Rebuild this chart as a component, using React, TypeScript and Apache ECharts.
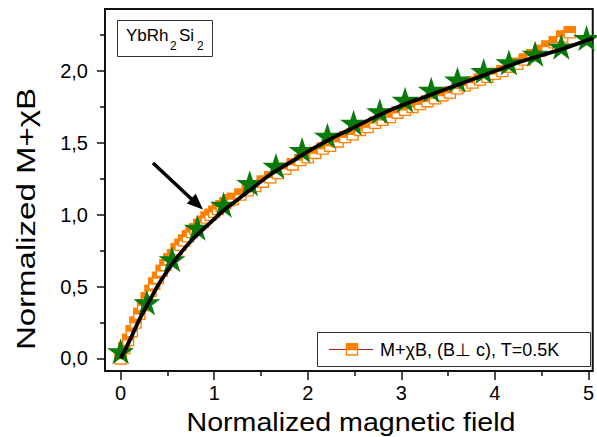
import React, { useEffect, useRef } from "react";
import * as echarts from "echarts";

// Measured data: M+chiB, (B perp c), T=0.5K (orange squares)
const fieldX = [
  0, 0.04, 0.08, 0.12, 0.16, 0.2, 0.24, 0.28, 0.32, 0.36, 0.4, 0.44, 0.48, 0.52, 0.56, 0.6,
  0.64, 0.68, 0.72, 0.76, 0.8, 0.84, 0.88, 0.92, 0.96, 1.0, 1.04, 1.08, 1.12, 1.16, 1.2,
  1.28, 1.36, 1.44, 1.52, 1.6, 1.68, 1.76, 1.84, 1.92, 2.0, 2.08, 2.16, 2.24, 2.32, 2.4,
  2.48, 2.56, 2.64, 2.72, 2.8, 2.88, 2.96, 3.04, 3.12, 3.2, 3.28, 3.36, 3.44, 3.52, 3.6,
  3.68, 3.76, 3.84, 3.92, 4.0, 4.08, 4.16, 4.24, 4.32, 4.4, 4.48, 4.56, 4.64, 4.72, 4.8,
];
const momentY = [
  0.0, 0.07, 0.13, 0.19, 0.25, 0.31, 0.37, 0.42, 0.47, 0.52, 0.56, 0.61, 0.65, 0.69, 0.72, 0.76,
  0.79, 0.82, 0.85, 0.88, 0.9, 0.93, 0.95, 0.98, 1.0, 1.02, 1.04, 1.06, 1.08, 1.1, 1.11,
  1.14, 1.17, 1.2, 1.23, 1.26, 1.29, 1.32, 1.35, 1.38, 1.4, 1.43, 1.46, 1.48, 1.51, 1.54,
  1.56, 1.59, 1.61, 1.64, 1.66, 1.68, 1.71, 1.73, 1.75, 1.77, 1.79, 1.81, 1.83, 1.85, 1.88,
  1.9, 1.92, 1.94, 1.96, 1.98, 2.0, 2.03, 2.05, 2.08, 2.11, 2.14, 2.17, 2.2, 2.24, 2.27,
];

// Green stars
const starX = [0, 0.28, 0.55, 0.82, 1.1, 1.38, 1.66, 1.94, 2.21, 2.49, 2.77, 3.04, 3.32, 3.6, 3.88, 4.15, 4.43, 4.71, 4.98];
const starY = [0.05, 0.39, 0.69, 0.91, 1.07, 1.22, 1.34, 1.45, 1.55, 1.64, 1.72, 1.8, 1.87, 1.94, 2.0, 2.06, 2.12, 2.17, 2.23];

// Black fitted curve
const fitX = [0, 0.1, 0.2, 0.3, 0.4, 0.5, 0.6, 0.7, 0.8, 0.9, 1.0, 1.1, 1.2, 1.4, 1.6, 1.8, 2.0, 2.25, 2.5, 2.75, 3.0, 3.25, 3.5, 3.75, 4.0, 4.25, 4.5, 4.75, 5.05];
const fitY = [0, 0.13, 0.27, 0.39, 0.51, 0.61, 0.7, 0.78, 0.85, 0.91, 0.97, 1.03, 1.08, 1.18, 1.28, 1.36, 1.44, 1.53, 1.61, 1.69, 1.76, 1.82, 1.88, 1.94, 2.0, 2.06, 2.11, 2.16, 2.23];

// Ticks
const xMajorTicks = [0, 1, 2, 3, 4, 5];
const xMinorTicks = [0.5, 1.5, 2.5, 3.5, 4.5];
const yMajorTicks = [0, 0.5, 1.0, 1.5, 2.0];
const yMinorTicks = [0.25, 0.75, 1.25, 1.75, 2.25];

const FONT = "'Liberation Sans', Arial, sans-serif";
const ORANGE = "#FF8000";
const GREEN = "#0A7A0A";
const STAR = "path://M50,0 L61.2,34.5 L97.6,34.5 L68.2,55.9 L79.4,90.5 L50,69.1 L20.6,90.5 L31.8,55.9 L2.4,34.5 L38.8,34.5 Z";

export default function App() {
  const ref = useRef<HTMLDivElement>(null);
  useEffect(() => {
    if (!ref.current) return;
    const chart = echarts.init(ref.current, null, { renderer: "svg" });
    const sq = 11;
    const axisCommon = {
      axisLine: { show: false, onZero: false },
      splitLine: { show: false },
    };
    chart.setOption({
      animation: false,
      backgroundColor: "#fff",
      grid: { left: 105, top: 9, width: 490, height: 362, show: true, borderColor: "#111", borderWidth: 2, backgroundColor: "transparent" },
      xAxis: [
        {
          type: "value", min: -0.167, max: 5.046, position: "bottom", ...axisCommon,
          axisTick: { customValues: xMajorTicks, length: 9, lineStyle: { color: "#111", width: 1.5 } },
          axisLabel: { customValues: xMajorTicks, margin: 12, fontSize: 20, color: "#000", fontFamily: FONT, formatter: (v: number) => String(v) },
        },
        {
          type: "value", min: -0.167, max: 5.046, position: "bottom", ...axisCommon,
          axisTick: { customValues: xMinorTicks, length: 5, lineStyle: { color: "#111", width: 1.5 } },
          axisLabel: { show: false },
        },
      ],
      yAxis: [
        {
          type: "value", min: -0.087, max: 2.432, position: "left", ...axisCommon,
          axisTick: { customValues: yMajorTicks, length: 8, lineStyle: { color: "#111", width: 1.5 } },
          axisLabel: { customValues: yMajorTicks, margin: 17, fontSize: 20, color: "#000", fontFamily: FONT, formatter: (v: number) => v.toFixed(1).replace(".", ",") },
        },
        {
          type: "value", min: -0.087, max: 2.432, position: "left", ...axisCommon,
          axisTick: { customValues: yMinorTicks, length: 5, lineStyle: { color: "#111", width: 1.5 } },
          axisLabel: { show: false },
        },
      ],
      series: [
        {
          type: "line", xAxisIndex: 0, yAxisIndex: 0, z: 1,
          data: fieldX.map((x, i) => [x, momentY[i]]),
          showSymbol: false, symbol: "none", clip: false,
          lineStyle: { color: "#E00000", width: 1 },
        },
        {
          type: "custom", xAxisIndex: 0, yAxisIndex: 0, z: 2, clip: false,
          data: fieldX.map((x, i) => [x, momentY[i]]),
          renderItem: (params: any, api: any) => {
            const p = api.coord([api.value(0), api.value(1)]);
            return {
              type: "group",
              children: [
                { type: "rect", shape: { x: p[0] - sq / 2, y: p[1] - sq / 2, width: sq, height: sq }, style: { fill: "#fff", stroke: ORANGE, lineWidth: 1.3 } },
                { type: "rect", shape: { x: p[0] - sq / 2, y: p[1] - sq / 2, width: sq, height: sq / 2 }, style: { fill: ORANGE, stroke: ORANGE, lineWidth: 1.3 } },
              ],
            };
          },
        },
        {
          type: "scatter", xAxisIndex: 0, yAxisIndex: 0, z: 3, clip: false,
          data: starX.map((x, i) => [x, starY[i]]),
          symbol: STAR, symbolSize: [27, 26],
          itemStyle: { color: GREEN, opacity: 1 },
        },
        {
          type: "line", xAxisIndex: 0, yAxisIndex: 0, z: 4, clip: false,
          data: fitX.map((x, i) => [x, fitY[i]]),
          smooth: true, showSymbol: false, symbol: "none",
          lineStyle: { color: "#000", width: 3.8 },
        },
      ],
      graphic: [
        // sample label box
        { type: "rect", shape: { x: 117.5, y: 20.5, width: 95, height: 36 }, style: { fill: "#fff", stroke: "#333", lineWidth: 1 }, z: 10 },
        { type: "text", x: 126, y: 35.5, style: { text: "YbRh", fontSize: 17, fontFamily: FONT, fill: "#000", verticalAlign: "middle" }, z: 11 },
        { type: "text", x: 170, y: 46, style: { text: "2", fontSize: 12, fontFamily: FONT, fill: "#000", verticalAlign: "middle" }, z: 11 },
        { type: "text", x: 179, y: 35.5, style: { text: "Si", fontSize: 17, fontFamily: FONT, fill: "#000", verticalAlign: "middle" }, z: 11 },
        { type: "text", x: 197, y: 46, style: { text: "2", fontSize: 12, fontFamily: FONT, fill: "#000", verticalAlign: "middle" }, z: 11 },
        // arrow
        { type: "line", shape: { x1: 153, y1: 163, x2: 192, y2: 199.5 }, style: { stroke: "#000", lineWidth: 3.5 }, z: 10 },
        { type: "polygon", shape: { points: [[203, 209.5], [186.9, 203.4], [195.7, 193.8]] }, style: { fill: "#000" }, z: 10 },
        // legend
        { type: "rect", shape: { x: 317.5, y: 332.5, width: 273, height: 34 }, style: { fill: "#fff", stroke: "#333", lineWidth: 1 }, z: 10 },
        { type: "line", shape: { x1: 329, y1: 349.5, x2: 373, y2: 349.5 }, style: { stroke: "#B02020", lineWidth: 1 }, z: 11 },
        { type: "rect", shape: { x: 346.5, y: 344, width: 11, height: 11 }, style: { fill: "#fff", stroke: ORANGE, lineWidth: 1.3 }, z: 12 },
        { type: "rect", shape: { x: 346.5, y: 344, width: 11, height: 5.5 }, style: { fill: ORANGE, stroke: ORANGE, lineWidth: 1.3 }, z: 12 },
        { type: "text", x: 380, y: 349.5, style: { text: "M+χB, (B⊥ c), T=0.5K", fontSize: 18, fontFamily: FONT, fill: "#000", verticalAlign: "middle" }, z: 11 },
        // axis titles
        { type: "text", x: 351, y: 422, scaleX: 1.1, style: { text: "Normalized magnetic field", fontSize: 26, fontFamily: FONT, fill: "#000", align: "center", verticalAlign: "middle" } },
        { type: "text", x: 26, y: 219, rotation: Math.PI / 2, scaleX: 1.27, style: { text: "Normalized M+χB", fontSize: 26, fontFamily: FONT, fill: "#000", align: "center", verticalAlign: "middle" } },
      ],
    });
    return () => chart.dispose();
  }, []);
  return <div ref={ref} style={{ width: 597, height: 437, position: "absolute", left: 0, top: 0 }} />;
}
